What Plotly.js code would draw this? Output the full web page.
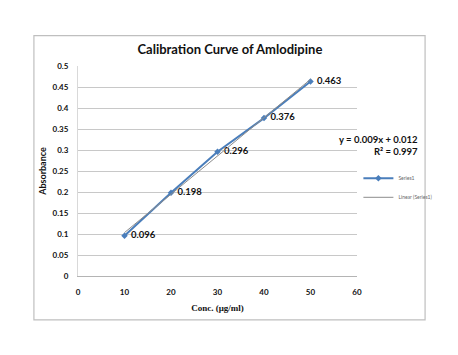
<!DOCTYPE html>
<html><head><meta charset="utf-8">
<script src="https://cdn.plot.ly/plotly-3.0.1.min.js"></script>
<style>html,body{margin:0;padding:0;background:#fff}#c{width:458px;height:355px}</style>
</head><body><div id="c"></div>
<script>
const conc = [10, 20, 30, 40, 50];
const absorbance = [0.096, 0.198, 0.296, 0.376, 0.463];
const dataLabels = ['0.096', '0.198', '0.296', '0.376', '0.463'];
const xTicks = [0, 10, 20, 30, 40, 50, 60];
const yTicks = [0, 0.05, 0.1, 0.15, 0.2, 0.25, 0.3, 0.35, 0.4, 0.45, 0.5];
const yTickText = ['0', '0.05', '0.1', '0.15', '0.2', '0.25', '0.3', '0.35', '0.4', '0.45', '0.5'];
const equationText = 'y = 0.009x + 0.012<br>R² = 0.997';

// least-squares trendline from the data
const n = conc.length;
const mx = conc.reduce((a,b)=>a+b,0)/n;
const my = absorbance.reduce((a,b)=>a+b,0)/n;
let sxy=0, sxx=0;
for (let i=0;i<n;i++){ sxy+=(conc[i]-mx)*(absorbance[i]-my); sxx+=(conc[i]-mx)**2; }
const slope = sxy/sxx, icpt = my - slope*mx;
const trendX = [conc[0], conc[n-1]];
const trendY = trendX.map(x => slope*x + icpt);

const F = 'Lato, "Open Sans", sans-serif';
const traces = [
  {x: conc, y: absorbance, name: 'Series1', type: 'scatter', mode: 'lines+markers+text',
   line: {color: '#4a7ebb', width: 2}, marker: {symbol: 'diamond', size: 5, color: '#4a7ebb'},
   text: dataLabels.map(t => ' ' + t), textposition: 'middle right',
   textfont: {family: F, size: 9.5, color: '#111', weight: 'bold'}, cliponaxis: false},
  {x: trendX, y: trendY, name: 'Linear (Series1)', type: 'scatter', mode: 'lines',
   line: {color: '#8c8c8c', width: 1}}
];
const layout = {
  width: 458, height: 355,
  margin: {l: 78, r: 101, t: 66, b: 79},
  paper_bgcolor: '#fff', plot_bgcolor: '#fff',
  font: {family: F, color: '#111'},
  title: {text: 'Calibration Curve of Amlodipine', font: {family: F, size: 13, color: '#111', weight: 'bold'},
          x: 0.502, xanchor: 'center', y: 0.862, yanchor: 'middle'},
  xaxis: {range: [0, 60], tickvals: xTicks, ticktext: xTicks.map(String), showgrid: false, zeroline: false,
          showline: true, linecolor: '#b4b4b4', linewidth: 1, ticks: '', ticklen: 0, ticklabelstandoff: 8,
          tickfont: {family: F, size: 8, color: '#111', weight: 'bold'},
          title: {text: 'Conc. (μg/ml)', font: {family: '"Liberation Serif", serif', size: 9, color: '#111', weight: 'bold'}, standoff: 9}},
  yaxis: {range: [0, 0.5], tickvals: yTicks, ticktext: yTickText, showgrid: true, gridcolor: '#c8c8c8', gridwidth: 1,
          zeroline: false, showline: true, linecolor: '#d9d9d9', linewidth: 1, ticks: '', ticklen: 0, ticklabelstandoff: 7,
          tickfont: {family: F, size: 8, color: '#111', weight: 'bold'},
          title: {text: 'Absorbance', font: {family: F, size: 9, color: '#111', weight: 'bold'}, standoff: 4}},
  showlegend: true,
  legend: {x: 1.005, y: 0.42, xanchor: 'left', yanchor: 'middle', font: {family: F, size: 5, color: '#666'},
           itemwidth: 30, tracegroupgap: 0, bgcolor: 'rgba(0,0,0,0)'},
  annotations: [
    {xref: 'paper', yref: 'paper', x: 1.225, y: 0.62, xanchor: 'right', yanchor: 'middle', align: 'right',
     text: equationText, showarrow: false, font: {family: F, size: 9.5, color: '#111', weight: 'bold'}}
  ],
  shapes: [
    {type: 'rect', xref: 'paper', yref: 'paper', x0: -0.158, x1: 1.244, y0: -0.209, y1: 1.145,
     line: {color: '#bfbfbf', width: 1.2}, fillcolor: 'rgba(0,0,0,0)', layer: 'below'}
  ]
};
Plotly.newPlot('c', traces, layout, {displayModeBar: false, staticPlot: true});
</script></body></html>
